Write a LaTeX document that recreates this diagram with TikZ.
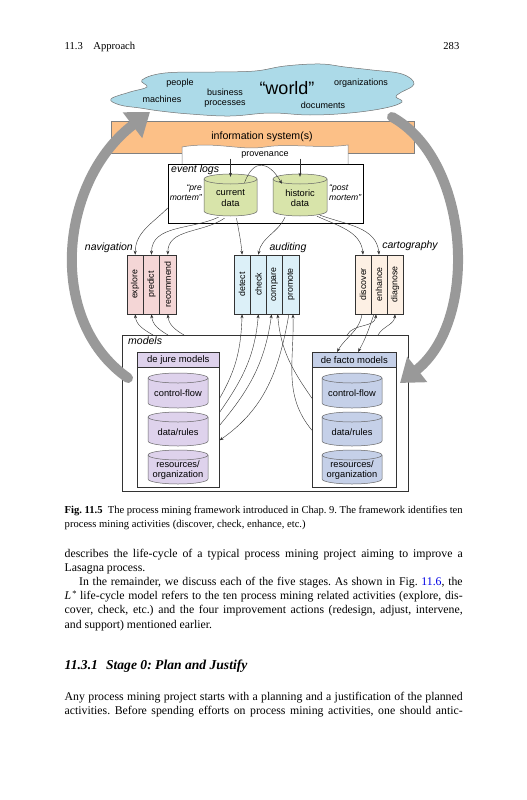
\documentclass[tikz,border=0pt]{standalone}
\usepackage{fontspec}
\usepackage{graphicx}
\setmainfont{Liberation Serif}
\newfontfamily\dfont{Liberation Sans}
\usetikzlibrary{arrows.meta,calc}
\frenchspacing
\definecolor{cloudc}{RGB}{172,218,232}
\definecolor{orangec}{RGB}{252,192,135}
\definecolor{evc}{RGB}{216,228,170}
\definecolor{navc}{RGB}{244,214,214}
\definecolor{audc}{RGB}{220,240,248}
\definecolor{carc}{RGB}{253,240,228}
\definecolor{jurec}{RGB}{222,210,236}
\definecolor{factoc}{RGB}{197,208,232}
\definecolor{arrc}{RGB}{153,153,153}
\definecolor{linkc}{RGB}{0,0,230}
\newcommand\cyl[7]{%
  \pgfmathsetmacro\crx{(#3-#2)/2}%
  \path[draw=black!60, line width=0.5pt, fill=#6] (#2,{-(#4)-5}) -- (#2,{-(#5)+5}) arc[start angle=180,end angle=360,x radius=\crx,y radius=5] -- (#3,{-(#4)-5}) arc[start angle=0,end angle=180,x radius=\crx,y radius=5] -- cycle;
  \draw[black!60, line width=0.5pt] (#2,{-(#4)-5}) arc[start angle=180,end angle=360,x radius=\crx,y radius=5];
  \node[inner sep=0pt, minimum width={#3-#2}, minimum height={#5-#4}, align=center, font=\dfont\fontsize{9.3}{10.5}\selectfont] (#1) at ({(#2+#3)/2},{-(#4+#5)/2-3}) {#7};
}
\newcommand\jline[3]{\node[anchor=base west, inner sep=0pt] (#1) at (64.5,-#2) {\hbox to 398pt{#3}};}
\begin{document}
\begin{tikzpicture}[x=1pt,y=1pt,
  conn/.style={draw=black!80, line width=0.4pt, -{Stealth[length=4pt,width=3pt]}},
  bigarrow/.style={draw=arrc, line width=10pt, line cap=round, -{Triangle[length=22pt,width=31pt]}},
  act/.style={draw=black!80, line width=0.6pt, minimum width=16.3pt, minimum height=59pt, inner sep=0pt, font=\dfont\fontsize{8.8}{9}\selectfont},
  dtext/.style={font=\dfont\fontsize{9}{10.5}\selectfont, inner sep=0pt, align=center},
  ilabel/.style={font=\dfont\itshape\fontsize{10.5}{12}\selectfont, inner sep=0pt},
  body/.style={font=\fontsize{11.8}{14.2}\selectfont},
]
\useasboundingbox (0,0) rectangle (527,-800);
\fill[white] (0,0) rectangle (527,-800);

% running head
\node[anchor=base west, inner sep=0pt, font=\fontsize{10.6}{12}\selectfont] (rh) at (64.5,-50) {11.3\quad Approach};
\node[anchor=base east, inner sep=0pt, font=\fontsize{10.6}{12}\selectfont] (pg) at (459.5,-50) {283};

% cloud
\draw[black!55, line width=0.5pt, fill=cloudc] plot[smooth cycle, tension=0.65] coordinates {
 (111,-99) (130,-92) (147,-87) (142,-80) (165,-73) (215,-72) (255,-71) (285,-66) (320,-64)
 (345,-67) (372,-70) (402,-74) (414,-84) (400,-93) (396,-97) (402,-102) (385,-108)
 (350,-113) (310,-115) (270,-113) (230,-116) (190,-114) (160,-111) (140,-108) (120,-105)};
\node[dtext] (w1) at (180,-83) {people};
\node[dtext] (w2) at (162,-99) {machines};
\node[dtext] (w3) at (225,-98) {business\\processes};
\node[dtext, font=\dfont\fontsize{18}{20}\selectfont] (w4) at (287,-88) {“world”};
\node[dtext] (w5) at (361,-83) {organizations};
\node[dtext] (w6) at (323,-105) {documents};

% information systems
\node[draw=black!50, fill=orangec, minimum width=303pt, minimum height=32pt, anchor=north west, inner sep=0pt] (is) at (111,-121) {};
\node[font=\dfont\fontsize{10.6}{12}\selectfont, inner sep=0pt] (isl) at (262,-137) {information system(s)};
\path[draw=black!50, line width=0.5pt, fill=white] (182,-164) -- (182,-147) .. controls (215,-141) and (240,-151) .. (265,-147) .. controls (290,-143) and (320,-149) .. (348,-145) -- (348,-164);
\node[dtext] (prov) at (265,-155) {provenance};

% event logs
\node[draw=black, line width=0.6pt, fill=white, minimum width=195pt, minimum height=59pt, anchor=north west, inner sep=0pt] (elog) at (168,-164) {};
\cyl{cur}{204}{257}{174}{216}{evc}{current\\data}
\cyl{hist}{273}{327}{174}{216}{evc}{historic\\data}
\node[ilabel, anchor=north west] (elogl) at (171,-165) {event logs};
\node[dtext, font=\dfont\itshape\fontsize{8.6}{10}\selectfont, anchor=east, align=right] (pre) at (202,-193) {“pre\\mortem”};
\node[dtext, font=\dfont\itshape\fontsize{8.6}{10}\selectfont, anchor=west, align=left] (post) at (329,-193) {“post\\mortem”};

% activities
\node[ilabel, anchor=base east] (navl) at (133,-250) {navigation};
\node[ilabel, anchor=base] (audl) at (288,-250) {auditing};
\node[ilabel, anchor=base] (carl) at (410,-248) {cartography};
\node[act, fill=navc] (exp) at (135.2,-284.5) {\rotatebox{90}{explore}};
\node[act, fill=navc] (prd) at (151.5,-284.5) {\rotatebox{90}{predict}};
\node[act, fill=navc] (rec) at (167.8,-284.5) {\rotatebox{90}{recommend}};
\node[act, fill=audc] (det) at (242.1,-284.5) {\rotatebox{90}{detect}};
\node[act, fill=audc] (chk) at (258.4,-284.5) {\rotatebox{90}{check}};
\node[act, fill=audc] (cmp) at (274.6,-284.5) {\rotatebox{90}{compare}};
\node[act, fill=audc] (pro) at (290.9,-284.5) {\rotatebox{90}{promote}};
\node[act, fill=carc] (dis) at (363,-284.5) {\rotatebox{90}{discover}};
\node[act, fill=carc] (enh) at (379,-284.5) {\rotatebox{90}{enhance}};
\node[act, fill=carc] (dia) at (395,-284.5) {\rotatebox{90}{diagnose}};

% models
\node[draw=black!80, line width=0.6pt, fill=white, minimum width=286pt, minimum height=156pt, anchor=north west, inner sep=0pt] (mod) at (122,-335) {};
\node[ilabel, anchor=north west] (modl) at (128,-337) {models};
\node[draw=black!80, line width=0.6pt, minimum width=82pt, minimum height=135pt, anchor=north west, inner sep=0pt] (djm) at (137,-352) {};
\node[draw=black!80, line width=0.6pt, fill=jurec, minimum width=82pt, minimum height=15pt, anchor=north west, inner sep=0pt, font=\dfont\fontsize{9.5}{11}\selectfont] (djh) at (137,-352) {de jure models};
\node[draw=black!80, line width=0.6pt, minimum width=84pt, minimum height=135pt, anchor=north west, inner sep=0pt] (dfm) at (312,-352) {};
\node[draw=black!80, line width=0.6pt, fill=factoc, minimum width=84pt, minimum height=15pt, anchor=north west, inner sep=0pt, font=\dfont\fontsize{9.5}{11}\selectfont] (dfh) at (312,-352) {de facto models};
\cyl{j1}{148}{208}{373}{408}{jurec}{control-flow}
\cyl{j2}{148}{208}{412}{446}{jurec}{data/rules}
\cyl{j3}{148}{208}{450}{484}{jurec}{resources/\\organization}
\cyl{f1}{322}{382}{373}{408}{factoc}{control-flow}
\cyl{f2}{322}{382}{412}{446}{factoc}{data/rules}
\cyl{f3}{322}{382}{450}{484}{factoc}{resources/\\organization}

% connectors from provenance and event data
\draw[conn] (prov.south -| cur.north) -- (cur.north);
\draw[conn] (prov.south -| hist.north) -- (hist.north);
\draw[conn] ([xshift=14pt,yshift=-6pt]cur.north) to[out=70,in=120,looseness=1.8] ([xshift=-18pt,yshift=-7pt]hist.north);
\draw[conn] ([yshift=-14pt]elog.west) to[out=225,in=90] (exp.north);
\draw[conn] ([xshift=-12pt,yshift=2pt]cur.south) to[out=205,in=90] (prd.north);
\draw[conn] ([xshift=-6pt,yshift=1pt]cur.south) to[out=215,in=90] (rec.north);
\draw[conn] ([xshift=6pt,yshift=1pt]cur.south) to[out=-80,in=95] (det.north);
\draw[conn] ([xshift=-15pt,yshift=2pt]hist.south) to[out=245,in=80] (chk.north);
\draw[conn] ([xshift=17pt,yshift=3pt]hist.south) to[out=-25,in=95] (dis.north);
\draw[conn] ([xshift=20pt,yshift=4pt]hist.south) to[out=-20,in=95] (enh.north);

% connectors from models
\coordinate (m1) at (153,-335);
\coordinate (m2) at (168,-335);
\coordinate (m3) at (184,-335);
\coordinate (m4) at (347,-335);
\coordinate (m5) at (378,-335);
\draw[conn] (m1) to[out=150,in=-85] (exp.south);
\draw[conn] (m2) to[out=150,in=-85] (prd.south);
\draw[conn] (m3) to[out=150,in=-85] (rec.south);
\draw[conn] ([yshift=21.5pt]djm.east) to[out=60,in=-92] (det.south);
\draw[conn] ([yshift=7.5pt]djm.east) to[out=55,in=-95] (chk.south);
\draw[conn] ([yshift=-5.5pt]djm.east) to[out=50,in=-98] ([xshift=-3pt]cmp.south);
\draw[conn] ([xshift=-2pt]pro.south) to[out=-100,in=35] ([yshift=-20.5pt]djm.east);
\draw[conn] ([yshift=21.5pt]dfm.west) to[out=125,in=-85] ([xshift=3pt]cmp.south);
\draw[conn] ([yshift=-10.5pt]dfm.west) to[out=130,in=-88] ([xshift=2pt]pro.south);
\draw[conn] ([xshift=-1pt]dis.south) to[out=-100,in=60] (dfh.north -| 337,0);
\draw[conn] ([xshift=-5pt]enh.south) to[out=-110,in=60] (dfh.north -| 358,0);
\draw[conn] (m4) to[out=60,in=-95] ([xshift=-3pt]enh.south);
\draw[conn] (m5) to[out=60,in=-95] (dia.south);

% big grey arrows
\coordinate (la) at (128,-378);
\coordinate (lb) at (150,-112);
\coordinate (ra) at (392,-117);
\coordinate (rb) at (400,-383);
\draw[bigarrow] (la) .. controls (45,-320) and (60,-180) .. (lb);
\draw[bigarrow] (ra) .. controls (470,-160) and (480,-320) .. (rb);

% caption
\node[anchor=base west, inner sep=0pt, font=\fontsize{10.6}{13.3}\selectfont] (cap1) at (64.5,-513.5) {\hbox to 398pt{\textbf{Fig. 11.5}\enspace The process mining framework introduced in Chap. 9. The framework identifies ten}};
\node[anchor=base west, inner sep=0pt, font=\fontsize{10.6}{13.3}\selectfont] (cap2) at (64.5,-527) {process mining activities (discover, check, enhance, etc.)};

% body text
\begin{scope}[every node/.style={body}]
\jline{b1}{557}{describes the life-cycle of a typical process mining project aiming to improve a}
\node[anchor=base west, inner sep=0pt] (b2) at (64.5,-571.3) {Lasagna process.};
\jline{b3}{585.5}{\hspace*{14.5pt}In the remainder, we discuss each of the five stages. As shown in Fig.~\textcolor{linkc}{11.6}, the}
\jline{b4}{599.7}{\textit{L}\kern1pt\raisebox{0.55ex}{\fontsize{8.5}{9}\selectfont *} life-cycle model refers to the ten process mining related activities (explore, dis-}
\jline{b5}{613.9}{cover, check, etc.) and the four improvement actions (redesign, adjust, intervene,}
\node[anchor=base west, inner sep=0pt] (b6) at (64.5,-628) {and support) mentioned earlier.};
\node[anchor=base west, inner sep=0pt, font=\bfseries\itshape\fontsize{13.6}{16}\selectfont] (h1) at (64.5,-669) {11.3.1\hspace{0.6em}Stage 0: Plan and Justify};
\jline{b7}{700.5}{Any process mining project starts with a planning and a justification of the planned}
\jline{b8}{714.8}{activities. Before spending efforts on process mining activities, one should antic-}
\end{scope}
\end{tikzpicture}
\end{document}
